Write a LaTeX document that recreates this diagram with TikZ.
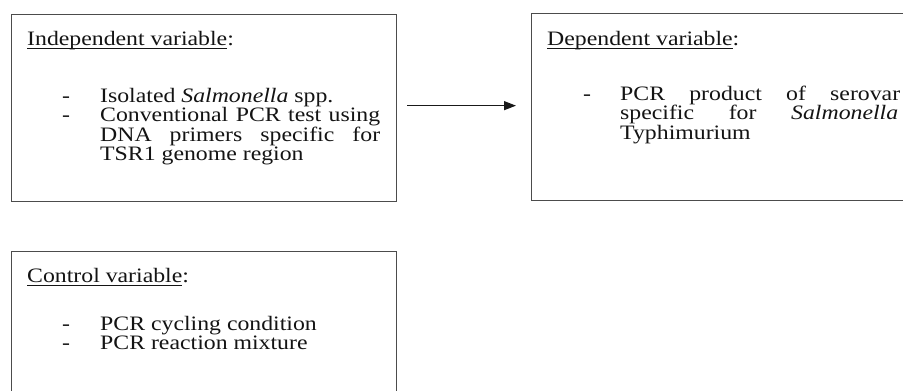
\documentclass[tikz,border=0pt]{standalone}
\usepackage{fontspec}
\setmainfont{Liberation Serif}[FakeStretch=1.16]
\usetikzlibrary{arrows.meta}

% underlined heading word(s), rule set a little below the baseline
\newcommand\ulword[1]{\setbox0\hbox{#1}\rlap{\rule[-4pt]{\wd0}{1pt}}\box0}
% list markers: a dash in a fixed-width slot, or an empty slot
\newcommand\itemdash{\makebox[38pt][l]{-}}
\newcommand\itemskip{\hspace*{38pt}}

\tikzset{
  varbox/.style={draw=black!70, line width=1.3pt, anchor=north west, inner sep=0pt, fill=none},
  txt/.style={anchor=base west, inner sep=0pt, text=black!92,
              font=\fontsize{20.5}{19.6}\selectfont},
  link/.style={-{Triangle[length=12pt,width=9pt]}, line width=1.2pt, draw=black!90}
}

\begin{document}
\begin{tikzpicture}[x=1pt, y=-1pt]
  \useasboundingbox (0,0) rectangle (903,391);
  \fill[white] (0,0) rectangle (903,391);
  \clip (0,0) rectangle (903,391);

  % the three boxes
  \node[varbox, minimum width=385pt, minimum height=187pt] (indep) at (11,14) {};
  \node[varbox, minimum width=400pt, minimum height=187pt] (dep) at (531,13) {};
  \node[varbox, minimum width=385pt, minimum height=200pt] (ctrl) at (11,251) {};

  % independent variable (each list is a \vtop, so its base is the first baseline)
  \node[txt] (h1) at (27,45) {\ulword{Independent variable}:};
  \node[txt] (l1) at (62,102) {\vtop{%
    \hbox{\itemdash Isolated \textit{Salmonella} spp.}
    \hbox{\itemdash\makebox[280pt][s]{Conventional PCR test using}}
    \hbox{\itemskip\makebox[280pt][s]{DNA primers specific for}}
    \hbox{\itemskip TSR1 genome region}}};

  % dependent variable
  \node[txt] (h2) at (547,45) {\ulword{Dependent variable}:};
  \node[txt] (l2) at (583,100) {\vtop{%
    \hbox{\makebox[37pt][l]{-}\makebox[280pt][s]{PCR product of serovar}}
    \hbox{\hspace*{37pt}\makebox[278pt][s]{specific for \textit{Salmonella}}}
    \hbox{\hspace*{37pt}Typhimurium}}};

  % control variable
  \node[txt] (h3) at (27,282) {\ulword{Control variable}:};
  \node[txt] (l3) at (62,330) {\vtop{%
    \hbox{\itemdash PCR cycling condition}
    \hbox{\itemdash PCR reaction mixture}}};

  % connector
  \coordinate (a) at ([yshift=2.5pt]indep.east);
  \draw[link, shorten <=10pt, shorten >=15pt] (a) -- (a -| dep.west);
\end{tikzpicture}
\end{document}
